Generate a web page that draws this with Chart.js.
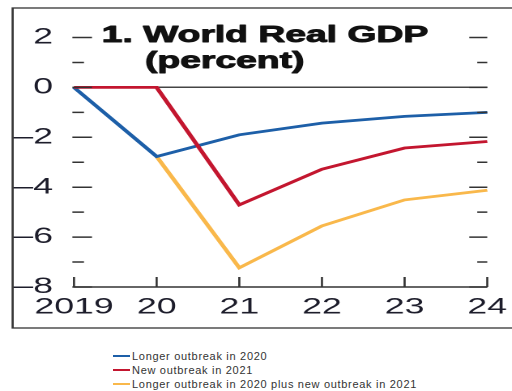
<!DOCTYPE html>
<html>
<head>
<meta charset="utf-8">
<script src="https://cdn.jsdelivr.net/npm/chart.js@4/dist/chart.umd.min.js"></script>
<style>
  html, body { margin: 0; padding: 0; background: #fff; overflow: hidden; }
  body { width: 512px; height: 391px; position: relative; font-family: "Liberation Sans", Arial, sans-serif; }
  /* the panel is drawn narrow and widened on screen, so type reads wide */
  #panel { position: absolute; left: 0; top: 0; transform: scaleX(1.62); transform-origin: 0 0; }
  #legend { position: absolute; left: 113px; top: 349px; font-size: 11px; letter-spacing: 0.7px; color: #333; }
  .row { height: 14px; line-height: 14px; white-space: nowrap; display: flex; align-items: center; }
  .swatch { display: inline-block; width: 17px; height: 2.5px; margin-right: 2px; }
</style>
</head>
<body>
<div id="panel"><canvas id="gdp" width="320" height="335"></canvas></div>
<div id="legend"></div>
<script>
// World real GDP, percent deviation from baseline, under three outbreak scenarios.
const YEARS = ["2019", "20", "21", "22", "23", "24"];
const LONGER_2020 = [0, -2.77, -1.9, -1.43, -1.16, -1.0];
const NEW_2021 = [0, 0, -4.71, -3.28, -2.43, -2.17];
const LONGER_PLUS_NEW = [null, -2.77, -7.23, -5.55, -4.51, -4.12];

const SERIES = [
  { label: "Longer outbreak in 2020", data: LONGER_2020, color: "#1d5fa8", order: 1 },
  { label: "New outbreak in 2021", data: NEW_2021, color: "#c3162f", order: 0 },
  { label: "Longer outbreak in 2020 plus new outbreak in 2021", data: LONGER_PLUS_NEW, color: "#f9b84b", order: 2 },
];

const Y_MIN = -8;
const Y_MAX = 2;
const INK = "#1d1d2b";
const STRETCH = 1.62; // matches the scaleX on #panel

// Box round the panel, inner tick marks on both sides, bottom axis and the title.
const panelFrame = {
  id: "panelFrame",
  afterDraw(chart) {
    const { ctx, chartArea: a, scales } = chart;
    const y = scales.y;
    const x = scales.x;
    ctx.save();
    ctx.strokeStyle = "#333";

    ctx.lineWidth = 1.3;
    ctx.strokeRect(7.8, 8, chart.width + 20, 320);

    ctx.lineWidth = 1.5;
    ctx.beginPath();
    for (let v = Y_MIN; v <= Y_MAX; v++) {
      const py = y.getPixelForValue(v);
      const len = (v % 2 === 0 ? 18 : 10) / STRETCH;
      ctx.moveTo(a.left - 1, py);
      ctx.lineTo(a.left + len, py);
      ctx.moveTo(a.right - len, py);
      ctx.lineTo(a.right, py);
    }
    ctx.stroke();

    ctx.lineWidth = 1.4;
    ctx.beginPath();
    ctx.moveTo(a.left, a.bottom);
    ctx.lineTo(a.right, a.bottom);
    ctx.stroke();
    ctx.lineWidth = 1.3;
    ctx.beginPath();
    YEARS.forEach((_, i) => {
      const px = x.getPixelForValue(i);
      ctx.moveTo(px, a.bottom);
      ctx.lineTo(px, a.bottom - 10);
    });
    ctx.stroke();

    // heavy title: fill plus a thin stroke of the same ink
    ctx.fillStyle = "#111";
    ctx.strokeStyle = "#111";
    ctx.lineWidth = 0.9;
    ctx.lineJoin = "round";
    ctx.font = "bold 23px 'Liberation Sans', Arial, sans-serif";
    ctx.textBaseline = "alphabetic";
    const lines = [["1. World Real GDP", 101.7, 42], ["(percent)", 145, 68]];
    for (const [text, px, py] of lines) {
      ctx.fillText(text, px / STRETCH, py);
      ctx.strokeText(text, px / STRETCH, py);
    }
    ctx.restore();
  },
};

new Chart(document.getElementById("gdp"), {
  type: "line",
  data: {
    labels: YEARS,
    datasets: SERIES.map((s) => ({
      label: s.label,
      data: s.data,
      borderColor: s.color,
      backgroundColor: s.color,
      borderWidth: 2.8,
      pointRadius: 0,
      tension: 0,
      fill: false,
      order: s.order,
    })),
  },
  options: {
    responsive: false,
    devicePixelRatio: 2,
    animation: false,
    layout: { padding: { left: 0, right: 16.3, top: 37.5, bottom: 0 } },
    plugins: { legend: { display: false }, tooltip: { enabled: false } },
    scales: {
      x: {
        offset: false,
        grid: { display: false, drawTicks: false },
        border: { display: false },
        ticks: {
          color: INK,
          padding: 7,
          maxRotation: 0,
          autoSkip: false,
          font: { family: "'Liberation Sans', Arial, sans-serif", size: 22 },
        },
        afterFit: (scale) => { scale.height = 48; },
      },
      y: {
        min: Y_MIN,
        max: Y_MAX,
        grid: {
          drawTicks: false,
          color: (ctx) => (ctx.tick && ctx.tick.value === 0 ? "#444" : "rgba(0,0,0,0)"),
          lineWidth: 1.5,
        },
        border: { display: false },
        ticks: {
          stepSize: 1,
          color: INK,
          padding: 13,
          font: { family: "'Liberation Sans', Arial, sans-serif", size: 22 },
          callback: (v) => {
            if (v % 2 !== 0) return "";
            return v < 0 ? "\u2013" + Math.abs(v) : String(v);
          },
        },
        afterFit: (scale) => { scale.width = 74 / STRETCH; },
      },
    },
  },
  plugins: [panelFrame],
});

// Legend sits under the panel at normal width.
const legend = document.getElementById("legend");
for (const s of SERIES) {
  const row = document.createElement("div");
  row.className = "row";
  const sw = document.createElement("span");
  sw.className = "swatch";
  sw.style.background = s.color;
  row.appendChild(sw);
  row.appendChild(document.createTextNode(s.label));
  legend.appendChild(row);
}
</script>
</body>
</html>
